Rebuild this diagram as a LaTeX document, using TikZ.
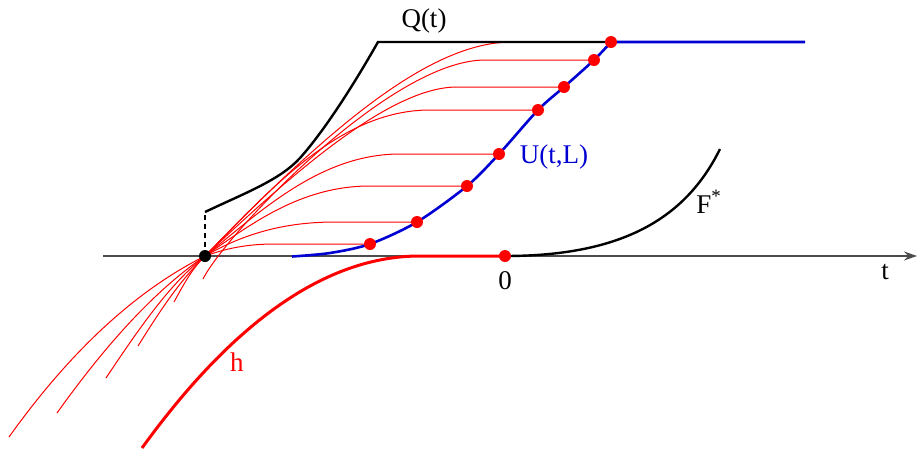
\documentclass[tikz,border=0pt]{standalone}
\usepackage{fontspec}
\setmainfont{Liberation Serif}
\usetikzlibrary{arrows.meta}
\definecolor{ublue}{RGB}{0,0,210}
\begin{document}
\begin{tikzpicture}[x=0.5pt,y=-0.5pt,
  lbl/.style={font=\fontsize{13.5}{16}\selectfont, inner sep=0pt},
  rdot/.style={circle,fill=red,inner sep=0pt,minimum size=6pt},
  bdot/.style={circle,fill=black,inner sep=0pt,minimum size=6pt},
  thinred/.style={red,line width=0.5pt},
  axisline/.style={black!70,line width=0.6pt,-{Stealth[length=6.5pt,width=4.5pt]}},
  qline/.style={black,line width=1.2pt},
  uline/.style={ublue,line width=1.3pt},
  hcurve/.style={red,line width=1.5pt},
  fline/.style={black,line width=1.2pt},
  dashline/.style={black,line width=0.6pt,dash pattern=on 2.5pt off 2pt}]
\useasboundingbox (0,0) rectangle (918,451);
% coordinates
\coordinate (ax0) at (103,256);
\coordinate (ax1) at (917,256);
\coordinate (D) at (205,256);
\coordinate (q0) at (205,212);
\coordinate (p1) at (611,42);
\coordinate (p2) at (594,60);
\coordinate (p3) at (564,87);
\coordinate (p4) at (538,110);
\coordinate (p5) at (499,154);
\coordinate (p6) at (467,186);
\coordinate (p7) at (417,222);
\coordinate (p8) at (370,244);
\coordinate (z) at (505,256);
\coordinate (uend) at (805,42);
% axis
\draw[axisline] (ax0) -- (ax1);
% h
\draw[hcurve] (142,448) .. controls (234.7,320) and (327.3,256) .. (420,256) -- (z);
% F*
\draw[fline] (z) .. controls (620,256) and (685,220) .. (720,149);
% thin red family
\draw[thinred] (174,302) .. controls (186,280) and (193,268) .. (D) .. controls (330,127) and (430,42) .. (512,42) -- (p1);
\draw[thinred] (203,279) .. controls (225,235) and (390,60) .. (485,60) -- (p2);
\draw[thinred] (D) .. controls (305,161) and (395,87) .. (457,87) -- (p3);
\draw[thinred] (138,346) .. controls (163,306) and (180,281) .. (D) .. controls (270,190) and (340,110) .. (430,110) -- (p4);
\draw[thinred] (106,378) .. controls (141,325.5) and (170,284) .. (D) .. controls (260,212) and (320,154) .. (400,154) -- (p5);
\draw[thinred] (57,413) .. controls (107,343) and (155,290.5) .. (D) .. controls (250,225) and (300,186) .. (370,186) -- (p6);
\draw[thinred] (9,437) .. controls (74,346) and (140,288.5) .. (D) .. controls (240,236) and (280,222) .. (335,222) -- (p7);
\draw[thinred] (D) .. controls (225,249) and (245,244) .. (275,244) -- (p8);
% Q
\draw[dashline] (D) -- (q0);
\draw[qline] (q0) .. controls (245,193) and (280,180) .. (300,158) .. controls (318,138) and (345,100) .. (378,42) -- (p1);
% U
\draw[uline] plot[smooth] coordinates {(292,256.5) (330,253) (p8) (p7) (p6) (p5) (p4) (p3) (p2) (p1)} -- (uend);
% dots
\node[bdot] (dD) at (D) {};
\node[rdot] (d1) at (p1) {};
\node[rdot] (d2) at (p2) {};
\node[rdot] (d3) at (p3) {};
\node[rdot] (d4) at (p4) {};
\node[rdot] (d5) at (p5) {};
\node[rdot] (d6) at (p6) {};
\node[rdot] (d7) at (p7) {};
\node[rdot] (d8) at (p8) {};
\node[rdot] (dz) at (z) {};
% labels
\node[lbl] (Q) at (424,21) {Q(t)};
\node[lbl,text=ublue] (U) at (554,157) {U(t,L)};
\node[lbl,anchor=base west] (F) at (696,213) {F\textsuperscript{*}};
\node[lbl] (zero) at (505,281) {0};
\node[lbl] (tl) at (885,272) {t};
\node[lbl,text=red] (h) at (237,362) {h};
\end{tikzpicture}
\end{document}
